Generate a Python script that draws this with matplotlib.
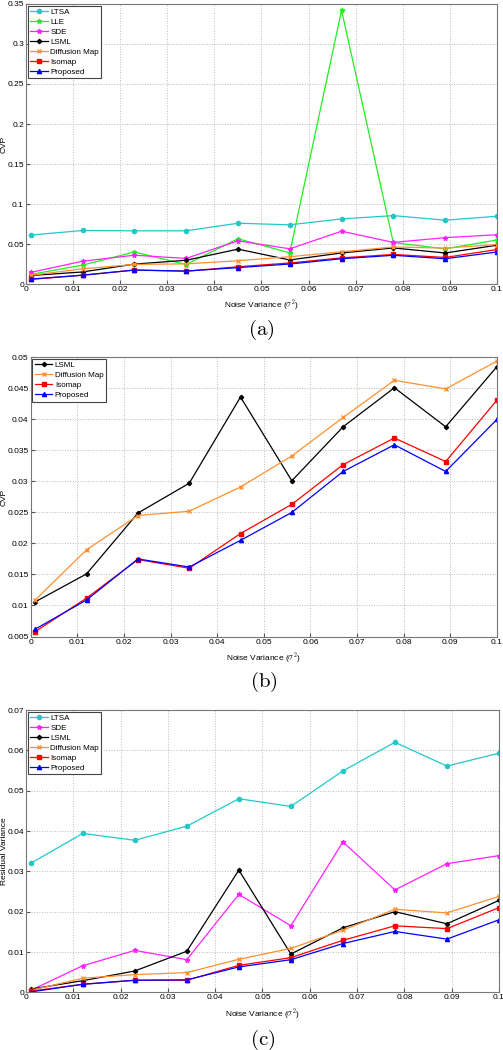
import numpy as np
import matplotlib.pyplot as plt

plt.rcParams['font.family'] = ['Liberation Sans', 'DejaVu Sans']
plt.rcParams['mathtext.fontset'] = 'cm'

noise = [0.001, 0.012, 0.023, 0.034, 0.045, 0.056, 0.067, 0.078, 0.089, 0.1]

# (a) CVP, all methods
cvp_ltsa = [0.0612, 0.0669, 0.0665, 0.0665, 0.0760, 0.0740, 0.0814, 0.0855, 0.0798, 0.0847]
cvp_lle = [0.0120, 0.0236, 0.0400, 0.0244, 0.0566, 0.0390, 0.3420, 0.0517, 0.0440, 0.0550]
cvp_sde = [0.0145, 0.0285, 0.0360, 0.0320, 0.0540, 0.0440, 0.0660, 0.0520, 0.0580, 0.0616]
# (b) CVP, subset (same values appear in (a))
cvp_lsml = [0.0106, 0.0151, 0.0249, 0.0297, 0.0436, 0.0301, 0.0388, 0.0451, 0.0388, 0.0485]
cvp_diff = [0.0109, 0.0190, 0.0245, 0.0252, 0.0291, 0.0341, 0.0403, 0.0463, 0.0449, 0.0494]
cvp_iso = [0.0058, 0.0112, 0.0174, 0.0160, 0.0216, 0.0263, 0.0327, 0.0370, 0.0332, 0.0431]
cvp_prop = [0.0062, 0.0109, 0.0175, 0.0162, 0.0205, 0.0250, 0.0316, 0.0359, 0.0316, 0.0400]

# (c) residual variance
rv_ltsa = [0.0320, 0.0394, 0.0377, 0.0412, 0.0480, 0.0461, 0.0549, 0.0620, 0.0561, 0.0593]
rv_sde = [0.0005, 0.0066, 0.0104, 0.0081, 0.0243, 0.0165, 0.0373, 0.0254, 0.0319, 0.0339]
rv_lsml = [0.0008, 0.0029, 0.0053, 0.0102, 0.0303, 0.0095, 0.0160, 0.0200, 0.0170, 0.0228]
rv_diff = [0.0005, 0.0035, 0.0044, 0.0049, 0.0082, 0.0109, 0.0154, 0.0206, 0.0197, 0.0238]
rv_iso = [0.0003, 0.0020, 0.0030, 0.0030, 0.0067, 0.0086, 0.0129, 0.0165, 0.0158, 0.0210]
rv_prop = [0.0001, 0.0020, 0.0030, 0.0031, 0.0063, 0.0081, 0.0121, 0.0151, 0.0132, 0.0180]

styles = {
    'LTSA': dict(color='#22c8c8', marker='o', ms=3),
    'LLE': dict(color='#22ee22', marker='*', ms=3.5),
    'SDE': dict(color='#ff22ff', marker='*', ms=3.5),
    'LSML': dict(color='black', marker='D', ms=2.2),
    'Diffusion Map': dict(color='#ff9030', marker='x', ms=2.2),
    'Isomap': dict(color='red', marker='s', ms=2.6),
    'Proposed': dict(color='blue', marker='^', ms=3),
}

FIG_W = 503


def draw(ax, series, ylabel, yticks, ylim, caption, cap_y):
    for name, vals in series:
        ax.plot(noise, vals, label=name, lw=0.9, **styles[name])
    ax.set_xlim(0, 0.1)
    ax.set_ylim(*ylim)
    ax.set_xticks(np.arange(0, 0.1001, 0.01))
    ax.set_xticklabels(['0'] + ['%g' % v for v in np.round(np.arange(0.01, 0.1001, 0.01), 2)])
    ax.set_yticks(yticks)
    ax.set_yticklabels(['%g' % v for v in yticks])
    ax.tick_params(direction='in', labelsize=6, length=3, color='#555555', pad=1.5)
    for s in ax.spines.values():
        s.set_color('#777777')
        s.set_linewidth(0.8)
    ax.grid(True, ls=':', color='#bbbbbb', lw=0.7)
    ax.set_xlabel(r'Noise Variance ($\sigma^2$)', fontsize=6, labelpad=3)
    ax.set_ylabel(ylabel, fontsize=6)
    pos = ax.get_position()
    ax.yaxis.set_label_coords((8 / FIG_W - pos.x0) / pos.width, 0.5)
    leg = ax.legend(loc='upper left', fontsize=5.8, handlelength=2.2, handletextpad=0.3,
                    borderpad=0.3, labelspacing=0.3, borderaxespad=0.2, fancybox=False,
                    framealpha=1)
    leg.get_frame().set_edgecolor('#444444')
    leg.get_frame().set_linewidth(0.8)
    fig.text(0.5 * (pos.x0 + pos.x1), cap_y, caption,
             ha='center', va='center', fontsize=15)


fig = plt.figure(figsize=(5.03, 10.5), dpi=100)
ax_a = fig.add_axes([0.0517, 0.7295, 0.9363, 0.2667])
ax_b = fig.add_axes([0.061, 0.3938, 0.927, 0.2659])
ax_c = fig.add_axes([0.0517, 0.0549, 0.9403, 0.2689])

draw(ax_a, [('LTSA', cvp_ltsa), ('LLE', cvp_lle), ('SDE', cvp_sde), ('LSML', cvp_lsml),
            ('Diffusion Map', cvp_diff), ('Isomap', cvp_iso), ('Proposed', cvp_prop)],
     'CVP', np.round(np.arange(0, 0.351, 0.05), 2), (0, 0.35), r'$\mathrm{(a)}$', 1 - 330 / 1050)
draw(ax_b, [('LSML', cvp_lsml), ('Diffusion Map', cvp_diff), ('Isomap', cvp_iso),
            ('Proposed', cvp_prop)],
     'CVP', np.round(np.arange(0.005, 0.0501, 0.005), 3), (0.005, 0.05), r'$\mathrm{(b)}$',
     1 - 682 / 1050)
draw(ax_c, [('LTSA', rv_ltsa), ('SDE', rv_sde), ('LSML', rv_lsml), ('Diffusion Map', rv_diff),
            ('Isomap', rv_iso), ('Proposed', rv_prop)],
     'Residual Variance', np.round(np.arange(0, 0.0701, 0.01), 2), (0, 0.07), r'$\mathrm{(c)}$',
     1 - 1040 / 1050)

fig.savefig('out.png', dpi=100)
